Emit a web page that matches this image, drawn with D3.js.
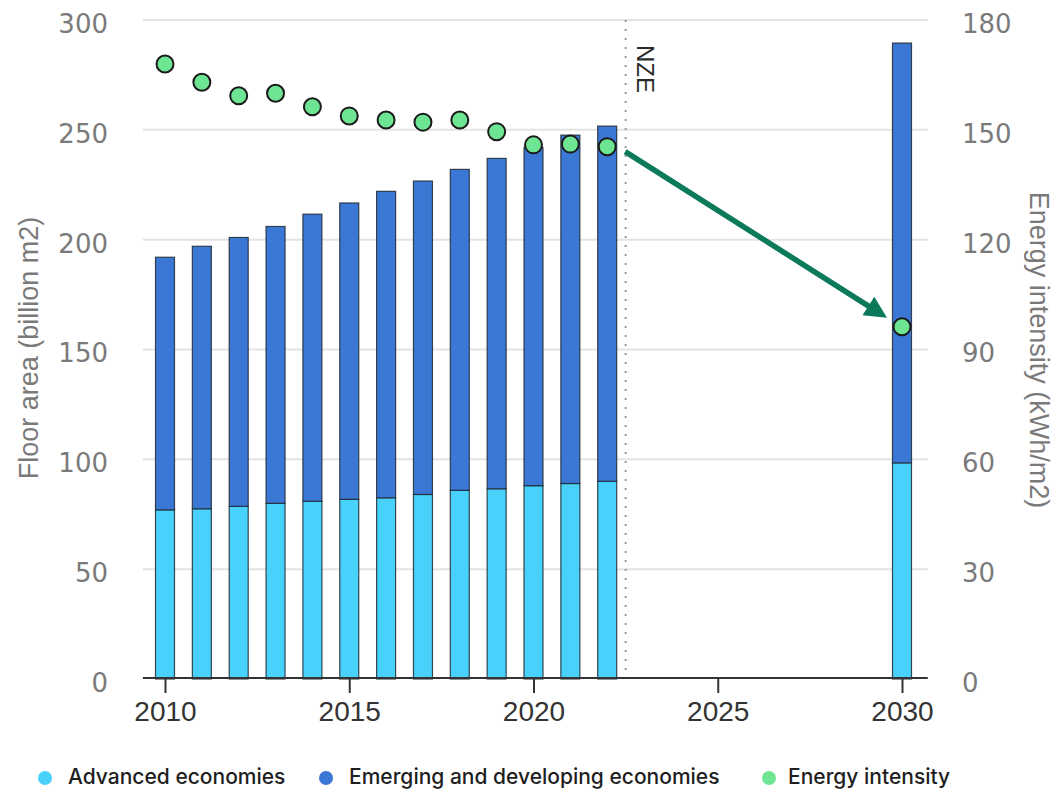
<!DOCTYPE html>
<html>
<head>
<meta charset="utf-8">
<script src="https://cdn.jsdelivr.net/npm/d3@7"></script>
<style>
  body { margin: 0; background: #fff; }
  svg { display: block; }
</style>
</head>
<body>
<svg id="chart" width="1059" height="791"></svg>
<script>
// Buildings floor area by economy group and average energy intensity
const years = [2010, 2011, 2012, 2013, 2014, 2015, 2016, 2017, 2018, 2019, 2020, 2021, 2022, 2030];
const advanced = [77, 77.5, 78.6, 80, 80.9, 81.8, 82.5, 84, 85.9, 86.6, 88, 89, 90, 98.4];
const emerging = [115, 119.5, 122.4, 126, 130.7, 134.9, 139.5, 142.7, 146.1, 150.4, 154, 158.6, 161.7, 191.1];
const intensity = [168, 163, 159.3, 160, 156.3, 153.8, 152.7, 152.1, 152.7, 149.5, 145.9, 146.1, 145.4, 96.2];
const xTicks = [2010, 2015, 2020, 2025, 2030];
const leftTicks = [0, 50, 100, 150, 200, 250, 300];
const rightTicks = [0, 30, 60, 90, 120, 150, 180];
const seriesKeys = ["advanced", "emerging"];
const legendItems = [
  { label: "Advanced economies", color: "#48d1fb" },
  { label: "Emerging and developing economies", color: "#3b78d6" },
  { label: "Energy intensity", color: "#6ee592" }
];
const nzeYear = 2022.5;

const colors = { advanced: "#48d1fb", emerging: "#3b78d6" };

const svg = d3.select("#chart");

const x = d3.scaleLinear().domain([2010, 2030]).range([165, 902]);
const yL = d3.scaleLinear().domain([0, 300]).range([679, 20]);
const yR = d3.scaleLinear().domain([0, 180]).range([679, 20]);
const plotLeft = x(2009.4), plotRight = x(2030.7);

// Horizontal gridlines
svg.append("g")
  .selectAll("line")
  .data(leftTicks.filter(d => d > 0))
  .join("line")
  .attr("x1", plotLeft).attr("x2", plotRight)
  .attr("y1", d => yL(d)).attr("y2", d => yL(d))
  .attr("stroke", "#e3e3e3").attr("stroke-width", 2);

// Left axis labels
const leftAxis = svg.append("g")
  .attr("transform", `translate(${108},0)`)
  .call(d3.axisLeft(yL).tickValues(leftTicks).tickSize(0).tickPadding(0));
leftAxis.select(".domain").remove();
leftAxis.selectAll("text")
  .attr("dy", "0.48em")
  .attr("font-family", "DejaVu Sans")
  .attr("font-size", 26)
  .attr("fill", "#7a7a7a");

// Right axis labels
const rightAxis = svg.append("g")
  .attr("transform", `translate(${962},0)`)
  .call(d3.axisRight(yR).tickValues(rightTicks).tickSize(0).tickPadding(0));
rightAxis.select(".domain").remove();
rightAxis.selectAll("text")
  .attr("dy", "0.48em")
  .attr("font-family", "DejaVu Sans")
  .attr("font-size", 26)
  .attr("fill", "#7a7a7a");

// Axis titles
svg.append("text")
  .attr("transform", `translate(38,${348}) rotate(-90)`)
  .attr("text-anchor", "middle")
  .attr("font-family", "Liberation Sans")
  .attr("font-size", 27)
  .attr("fill", "#7a7a7a")
  .text("Floor area (billion m2)");

svg.append("text")
  .attr("transform", `translate(1030,${350}) rotate(90)`)
  .attr("text-anchor", "middle")
  .attr("font-family", "Liberation Sans")
  .attr("font-size", 27)
  .attr("fill", "#7a7a7a")
  .text("Energy intensity (kWh/m2)");

// Stacked bars
const rows = years.map((yr, i) => ({ year: yr, advanced: advanced[i], emerging: emerging[i] }));
const stacked = d3.stack().keys(seriesKeys)(rows);
const barW = 19;

svg.append("g")
  .selectAll("g")
  .data(stacked)
  .join("g")
  .attr("fill", d => colors[d.key])
  .selectAll("rect")
  .data(d => d)
  .join("rect")
  .attr("x", d => x(d.data.year) - barW / 2)
  .attr("width", barW)
  .attr("y", d => yL(d[1]))
  .attr("height", d => yL(d[0]) - yL(d[1]))
  .attr("stroke", "#1f2a33")
  .attr("stroke-width", 1.2)
  .attr("stroke-opacity", 0.85);

// NZE divider
svg.append("line")
  .attr("x1", x(nzeYear)).attr("x2", x(nzeYear))
  .attr("y1", 20).attr("y2", 678)
  .attr("stroke", "#9a9a9a")
  .attr("stroke-width", 2)
  .attr("stroke-dasharray", "2,7");

svg.append("text")
  .attr("transform", `translate(${x(nzeYear) + 11},45) rotate(90)`)
  .attr("font-family", "Liberation Sans")
  .attr("font-size", 24)
  .attr("fill", "#2a2a2a")
  .text("NZE");

// X axis
svg.append("line")
  .attr("x1", plotLeft).attr("x2", plotRight)
  .attr("y1", 678).attr("y2", 678)
  .attr("stroke", "#333").attr("stroke-width", 2);

const xAxis = svg.append("g")
  .attr("transform", "translate(0,678)")
  .call(d3.axisBottom(x).tickValues(xTicks).tickFormat(d3.format("d")).tickSize(15).tickPadding(8));
xAxis.select(".domain").remove();
xAxis.selectAll("line").attr("stroke", "#333").attr("stroke-width", 2);
xAxis.selectAll("text")
  .attr("font-family", "Liberation Sans")
  .attr("font-size", 28)
  .attr("fill", "#333");

// Trend arrow from the latest value down to the 2030 value
const n = years.length;
const p0 = [x(years[n - 2]), yR(intensity[n - 2])];
const p1 = [x(years[n - 1]), yR(intensity[n - 1])];
const start = [p0[0] + 18, p0[1] + 5];
const tip = [p1[0] - 15, p1[1] - 9];
const ang = Math.atan2(tip[1] - start[1], tip[0] - start[0]);
const ux = Math.cos(ang), uy = Math.sin(ang);
const headLen = 22, headHalf = 11;
const base = [tip[0] - ux * headLen, tip[1] - uy * headLen];
svg.append("line")
  .attr("x1", start[0]).attr("y1", start[1])
  .attr("x2", base[0] + ux * 2).attr("y2", base[1] + uy * 2)
  .attr("stroke", "#0b7a5b").attr("stroke-width", 5.5);
svg.append("path")
  .attr("d", `M${tip[0]},${tip[1]}L${base[0] - uy * headHalf},${base[1] + ux * headHalf}L${base[0] + uy * headHalf},${base[1] - ux * headHalf}Z`)
  .attr("fill", "#0b7a5b");

// Energy intensity points
svg.append("g")
  .selectAll("circle")
  .data(years.map((yr, i) => ({ year: yr, v: intensity[i] })))
  .join("circle")
  .attr("cx", d => x(d.year))
  .attr("cy", d => yR(d.v))
  .attr("r", 8.5)
  .attr("fill", "#6ee592")
  .attr("stroke", "#1a1a1a")
  .attr("stroke-width", 2);

// Legend
const legendX = [45, 326, 769];
const legend = svg.append("g")
  .selectAll("g")
  .data(legendItems)
  .join("g")
  .attr("transform", (d, i) => `translate(${legendX[i]},778)`);
legend.append("circle").attr("r", 7).attr("fill", d => d.color);
legend.append("text")
  .attr("x", (d, i) => i === 2 ? 19 : 23)
  .attr("y", 6)
  .attr("font-family", "Inter")
  .attr("font-weight", 500)
  .attr("font-size", 21)
  .attr("fill", "#1e1e1e")
  .text(d => d.label);
</script>
</body>
</html>
